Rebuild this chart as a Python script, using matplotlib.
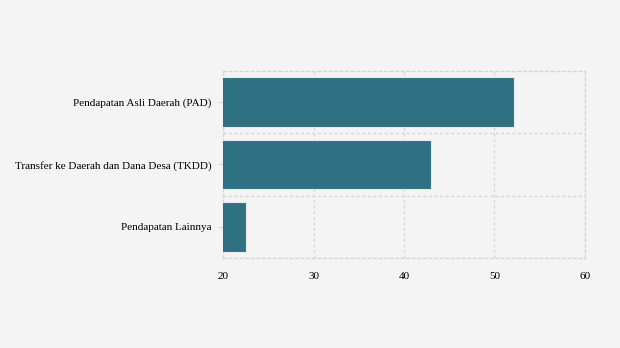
import matplotlib.pyplot as plt

# Komposisi pendapatan daerah (%)
categories = ["Pendapatan Asli Daerah (PAD)",
              "Transfer ke Daerah dan Dana Desa (TKDD)",
              "Pendapatan Lainnya"]
values = [52.2, 43.0, 22.5]
x_ticks = [20, 30, 40, 50, 60]

plt.rcParams['font.family'] = ['Liberation Serif', 'DejaVu Serif']

bg = "#f4f4f4"
grid_color = "#d6d6d6"

fig = plt.figure(figsize=(6.2, 3.48), dpi=100, facecolor=bg)
ax = fig.add_axes([0.3597, 0.2586, 0.5838, 0.5374], facecolor=bg)

ypos = list(range(len(categories)))
ax.barh(ypos, values, height=0.8, left=0, color="#2f7082",
        edgecolor="#e8e8e8", linewidth=0.8, zorder=3)

ax.set_xlim(x_ticks[0], x_ticks[-1])
ax.set_ylim(len(categories) - 0.5, -0.5)
ax.set_xticks(x_ticks)
ax.set_yticks(ypos)
ax.set_yticklabels(categories)

# dashed grid at category boundaries and x ticks
for b in [0.5, 1.5]:
    ax.axhline(b, color=grid_color, linestyle=(0, (2, 2)), linewidth=1, zorder=1)
ax.xaxis.grid(True, color=grid_color, linestyle=(0, (2, 2)), linewidth=1, zorder=1)
ax.set_axisbelow(True)

for side in ["top", "bottom", "left", "right"]:
    ax.spines[side].set_color(grid_color)
    ax.spines[side].set_linestyle((0, (2, 2)))
    ax.spines[side].set_linewidth(1)

ax.tick_params(axis="y", length=3.5, color=grid_color, labelsize=8, pad=5)
ax.tick_params(axis="x", length=0, labelsize=8, pad=10)

fig.savefig("out.png", dpi=100, facecolor=bg)
